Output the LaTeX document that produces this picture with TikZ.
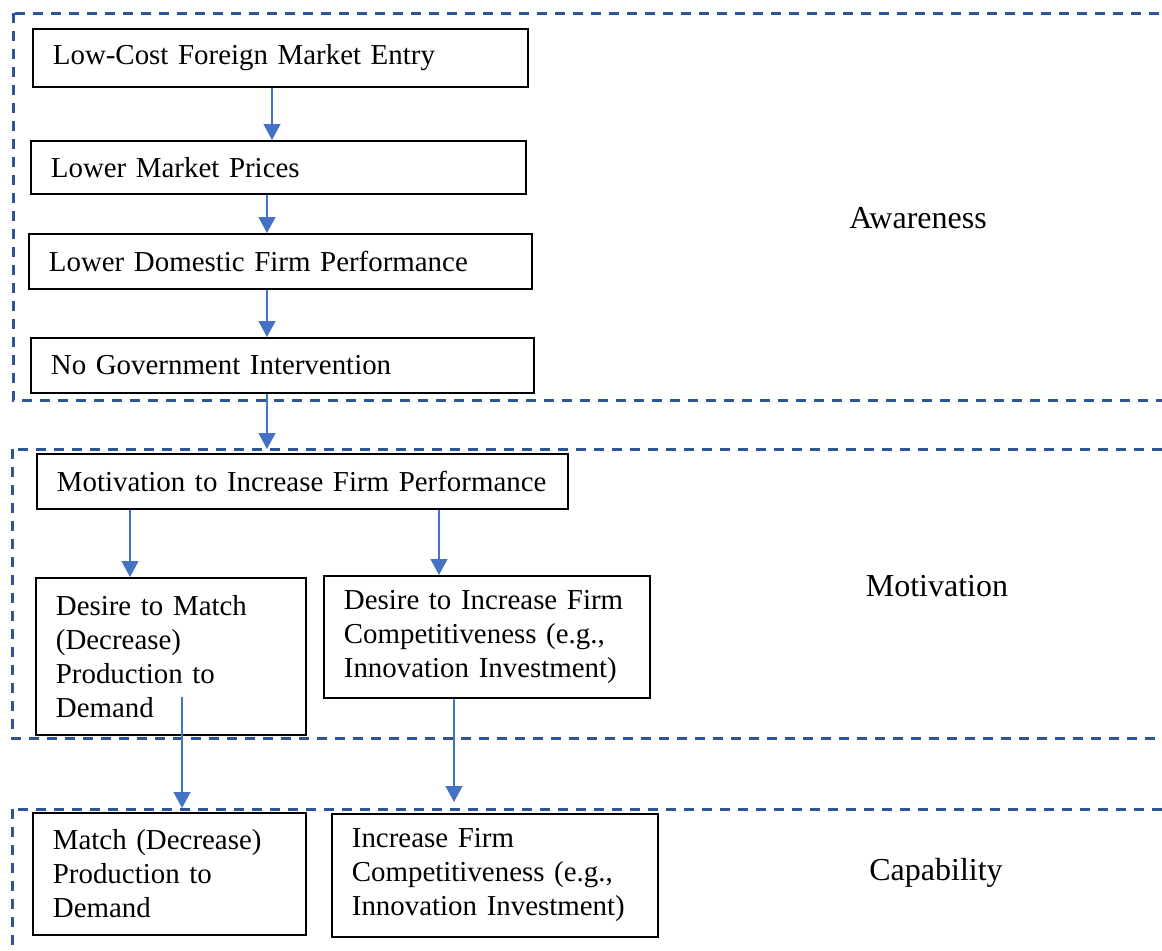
\documentclass[tikz,border=0pt]{standalone}
\usepackage{fontspec}
\setmainfont{Liberation Serif}
\usetikzlibrary{arrows.meta}
\definecolor{frameblue}{HTML}{2F5597}
\definecolor{flowblue}{HTML}{4472C4}

\begin{document}
\begin{tikzpicture}[x=0.5pt,y=-0.5pt,
  font=\fontsize{14.45}{17}\selectfont,
  stage/.style={draw=frameblue,line width=1.5pt,dash pattern=on 5pt off 4pt},
  box/.style={draw,line width=0.9pt,anchor=north west,align=left,inner xsep=10pt,inner ysep=0pt},
  flow/.style={draw=flowblue,line width=0.6pt,-{Triangle[length=8pt,width=8.5pt]}},
  tag/.style={anchor=base,font=\fontsize{16}{19}\selectfont}]
  \useasboundingbox (0,0) rectangle (1162,950);
  \clip (0,0) rectangle (1162,950);

  % Stage frames, open to the right
  \draw[stage] (13,13) rectangle (1180,400);
  \draw[stage] (12,449) rectangle (1180,738);
  \draw[stage] (12,809) rectangle (1180,990);

  \node[tag] (awareness) at (918,228) {Awareness};
  \node[tag] (motivation) at (937,596) {Motivation};
  \node[tag] (capability) at (936,880) {Capability};

  % Awareness chain
  \node[box,text width=227.5pt,minimum height=29pt] (entry) at (32,28) {Low-Cost Foreign Market Entry};
  \node[box,text width=227.5pt,minimum height=26.5pt] (prices) at (30,140) {Lower Market Prices};
  \node[box,text width=231.5pt,minimum height=27.5pt] (domestic) at (28,233) {Lower Domestic Firm Performance};
  \node[box,text width=231.5pt,minimum height=27.5pt] (nogov) at (30,337) {No Government Intervention};

  % Motivation
  \node[box,text width=245.5pt,minimum height=27.5pt] (motive) at (36,453) {\mbox{Motivation to Increase Firm Performance}};
  \node[box,text width=115pt,minimum height=78.5pt] (desmatch) at (35,577) {Desire to Match\\(Decrease)\\Production to\\Demand};
  \node[box,text width=143pt,minimum height=61pt] (desinc) at (323,575) {Desire to Increase Firm\\Competitiveness (e.g.,\\Innovation Investment)};

  % Capability
  \node[box,text width=116.5pt,minimum height=61pt] (match) at (32,812) {Match (Decrease)\\Production to\\Demand};
  \node[box,text width=143pt,minimum height=61.5pt] (incr) at (331,813) {Increase Firm\\Competitiveness (e.g.,\\Innovation Investment)};

  % Arrows
  \draw[flow] (entry.south -| 272,0) -- (prices.north -| 272,0);
  \draw[flow] (prices.south -| 267,0) -- (domestic.north -| 267,0);
  \draw[flow] (domestic.south -| 267,0) -- (nogov.north -| 267,0);
  \draw[flow,shorten >=2pt] (nogov.south -| 267,0) -- (motive.north -| 267,0);
  \draw[flow] (motive.south -| 130,0) -- (desmatch.north -| 130,0);
  \draw[flow] (motive.south -| 439,0) -- (desinc.north -| 439,0);
  \draw[flow,shorten <=-19.5pt,shorten >=2pt] (desmatch.south -| 182,0) -- (match.north -| 182,0);
  \draw[flow,shorten >=5.5pt] (desinc.south -| 454,0) -- (incr.north -| 454,0);
\end{tikzpicture}
\end{document}
